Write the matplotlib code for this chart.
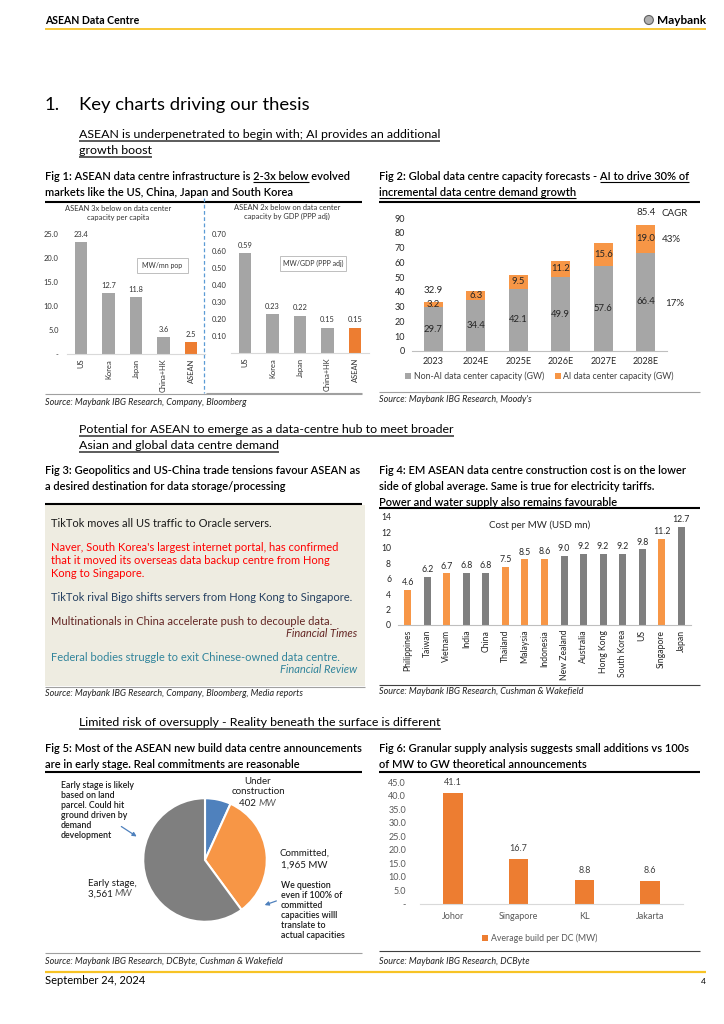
import numpy as np
import matplotlib
matplotlib.use("Agg")
import matplotlib.pyplot as plt
from matplotlib.patches import Rectangle, Circle

plt.rcParams['font.family'] = ['Lato', 'DejaVu Sans']

W, H = 724, 1024

#%% data
fig1_countries = ["US", "Korea", "Japan", "China+HK", "ASEAN"]
fig1_mw_per_pop = [23.4, 12.7, 11.8, 3.6, 2.5]
fig1_mw_per_gdp = [0.59, 0.23, 0.22, 0.15, 0.15]

fig2_years = ["2023", "2024E", "2025E", "2026E", "2027E", "2028E"]
fig2_non_ai = [29.7, 34.4, 42.1, 49.9, 57.6, 66.4]
fig2_ai = [3.2, 6.3, 9.5, 11.2, 15.6, 19.0]
fig2_cagr_ai = "43%"
fig2_cagr_non_ai = "17%"

fig4_countries = ["Philippines", "Taiwan", "Vietnam", "India", "China", "Thailand",
                  "Malaysia", "Indonesia", "New Zealand", "Australia", "Hong Kong",
                  "South Korea", "US", "Singapore", "Japan"]
fig4_cost = [4.6, 6.2, 6.7, 6.8, 6.8, 7.5, 8.5, 8.6, 9.0, 9.2, 9.2, 9.2, 9.8, 11.2, 12.7]
fig4_is_asean = [True, False, True, False, False, True, True, True,
                 False, False, False, False, False, True, False]

fig5_stages = ["Under construction", "Committed", "Early stage"]
fig5_mw = [402, 1965, 3561]

fig6_cities = ["Johor", "Singapore", "KL", "Jakarta"]
fig6_avg_build = [41.1, 16.7, 8.8, 8.6]

# colours
GREY = '#A5A5A5'
DGREY = '#7F7F7F'
ORANGE = '#ED7D31'
LORANGE = '#F79646'
BLUE = '#4F81BD'
YELLOW = '#F7C325'

#%% page canvas in pixel coords (y down)
fig = plt.figure(figsize=(W / 100, H / 100), dpi=100)
page = fig.add_axes([0, 0, 1, 1])
page.set_xlim(0, W)
page.set_ylim(H, 0)
page.axis('off')
renderer = fig.canvas.get_renderer()


def px_axes(x0, y0, x1, y1):
    ax = fig.add_axes([x0 / W, 1 - y1 / H, (x1 - x0) / W, (y1 - y0) / H])
    ax.patch.set_visible(False)
    return ax


def T(x, y, s, size=7.4, **kw):
    # y = visual middle of capitals, in page pixels
    return page.text(x, y + 0.5 * size, s, fontsize=size, va='baseline', **kw)


def measure(s, size, **kw):
    t = page.text(0, 0, s, fontsize=size, **kw)
    w = t.get_window_extent(renderer).width
    t.remove()
    return w


def underline(x, y, s, size, start=0, end=None, color='#404040', lw=1.0, **kw):
    end = len(s) if end is None else end
    bar = measure('|', size, **kw)
    x0 = x + (measure(s[:start] + '|', size, **kw) - bar if start else 0)
    x1 = x + measure(s[:end], size, **kw)
    yb = y + 0.5 * size + 0.25 * size
    page.plot([x0, x1], [yb, yb], color=color, lw=lw, solid_capstyle='butt')


def hline(y, x0, x1, color='black', lw=1.5):
    page.plot([x0, x1], [y, y], color=color, lw=lw, solid_capstyle='butt')


def clean(ax, spine='#D9D9D9'):
    for s in ['top', 'right', 'left']:
        ax.spines[s].set_visible(False)
    ax.spines['bottom'].set_color(spine)
    ax.spines['bottom'].set_linewidth(0.8)
    ax.tick_params(length=0)


#%% header / footer
T(45, 20, "ASEAN Data Centre", 7.6, weight='bold')
T(706, 20, "Maybank", 8.5, weight='bold', ha='right')
wm = measure("Maybank", 8.5, weight='bold')
page.add_patch(Circle((706 - wm - 8, 20), 4.5, facecolor='#B0B0B0', edgecolor='#606060', lw=0.8))
hline(28.5, 45, 706, color=YELLOW, lw=1.3)

hline(972, 45, 706, color=YELLOW, lw=1.6)
T(45, 980, "September 24, 2024", 8)
T(706, 981, "4", 6, ha='right')

#%% section titles
T(45, 103, "1.", 13.3)
T(79, 103, "Key charts driving our thesis", 13.3)

SUB = 8.9
s1 = "ASEAN is underpenetrated to begin with; AI provides an additional"
s2 = "growth boost"
T(79, 134, s1, SUB); underline(79, 134, s1, SUB, lw=1.2)
T(79, 150, s2, SUB); underline(79, 150, s2, SUB, lw=1.2)

s3 = "Potential for ASEAN to emerge as a data-centre hub to meet broader"
s4 = "Asian and global data centre demand"
T(79, 429, s3, SUB); underline(79, 429, s3, SUB, lw=1.2)
T(79, 445, s4, SUB); underline(79, 445, s4, SUB, lw=1.2)

s5 = "Limited risk of oversupply - Reality beneath the surface is different"
T(79, 722, s5, SUB); underline(79, 722, s5, SUB, lw=1.2)

#%% figure titles and rules
FT = 8.0
f1a = "Fig 1: ASEAN data centre infrastructure is 2-3x below evolved"
T(45, 176, f1a, FT, weight='semibold')
underline(45, 176, f1a, FT, f1a.index("2-3x"), f1a.index("2-3x") + len("2-3x below"),
          color='black', lw=0.8, weight='semibold')
T(45, 192, "markets like the US, China, Japan and South Korea", FT, weight='semibold')
hline(202, 45, 362)

f2a = "Fig 2: Global data centre capacity forecasts - AI to drive 30% of"
f2b = "incremental data centre demand growth"
T(379, 176, f2a, FT, weight='semibold')
underline(379, 176, f2a, FT, f2a.index("AI to"), color='black', lw=0.8, weight='semibold')
T(379, 192, f2b, FT, weight='semibold')
underline(379, 192, f2b, FT, color='black', lw=0.8, weight='semibold')
hline(202, 379, 700)

T(45, 470, "Fig 3: Geopolitics and US-China trade tensions favour ASEAN as", FT, weight='semibold')
T(45, 486, "a desired destination for data storage/processing", FT, weight='semibold')
hline(504, 45, 362)

T(379, 470, "Fig 4: EM ASEAN data centre construction cost is on the lower", FT, weight='semibold')
T(379, 486, "side of global average. Same is true for electricity tariffs.", FT, weight='semibold')
T(379, 502, "Power and water supply also remains favourable", FT, weight='semibold')
hline(508, 379, 700)

T(45, 748, "Fig 5: Most of the ASEAN new build data centre announcements", FT, weight='semibold')
T(45, 764, "are in early stage. Real commitments are reasonable", FT, weight='semibold')
hline(772, 45, 362)

T(379, 748, "Fig 6: Granular supply analysis suggests small additions vs 100s", FT, weight='semibold')
T(379, 764, "of MW to GW theoretical announcements", FT, weight='semibold')
hline(772, 379, 700)

# bottom rules + sources
SRC = 6.5
src_kw = dict(style='italic', color='#222222')
hline(394, 45, 362, color='#A0A0A0', lw=0.8)
T(45, 402, "Source: Maybank IBG Research, Company, Bloomberg", SRC, **src_kw)
hline(392, 379, 700, color='#A0A0A0', lw=0.8)
T(379, 399, "Source: Maybank IBG Research, Moody's", SRC, **src_kw)
T(45, 693, "Source: Maybank IBG Research, Company, Bloomberg, Media reports", SRC, **src_kw)
hline(685, 379, 700, color='#404040', lw=0.8)
T(379, 691, "Source: Maybank IBG Research, Cushman & Wakefield", SRC, **src_kw)
hline(953, 45, 362, color='#A0A0A0', lw=0.8)
T(45, 961, "Source: Maybank IBG Research, DCByte, Cushman & Wakefield", SRC, **src_kw)
hline(951, 379, 700, color='#404040', lw=0.8)
T(379, 961, "Source: Maybank IBG Research, DCByte", SRC, **src_kw)

#%% Fig 1 - two small panels
SM = 5.4
page.text(118, 213, "ASEAN 3x below on data center\ncapacity per capita", fontsize=SM,
          ha='center', va='center', color='#333333', linespacing=1.35)
page.text(287, 212, "ASEAN 2x below on data center\ncapacity by GDP (PPP adj)", fontsize=SM,
          ha='center', va='center', color='#333333', linespacing=1.35)
page.plot([204, 204], [198, 393], color='#5B9BD5', lw=0.9, ls=(0, (3, 2)))
hline(393, 206, 362, color='#A0A0A0', lw=0.8)

page.add_patch(Rectangle((137, 258), 51, 15, facecolor='white', edgecolor='#BFBFBF', lw=0.7))
page.text(162.5, 265.5, "MW/mn pop", fontsize=5, ha='center', va='center', color='#333333')
page.add_patch(Rectangle((280, 256), 66, 15, facecolor='white', edgecolor='#BFBFBF', lw=0.7))
page.text(313, 263.5, "MW/GDP (PPP adj)", fontsize=5, ha='center', va='center', color='#333333')

f1_colors = [GREY] * (len(fig1_countries) - 1) + [ORANGE]
x1 = np.arange(len(fig1_countries))

ax1 = px_axes(67, 234, 205, 354)
b = ax1.bar(x1, fig1_mw_per_pop, width=0.45, color=f1_colors)
ax1.bar_label(b, fmt='%.1f', padding=3, fontsize=SM, color='#333333')
ax1.set_ylim(0, 25)
ax1.set_xlim(-0.5, len(x1) - 0.5)
ax1.set_yticks(np.arange(0, 26, 5))
ax1.set_yticklabels(['-'] + [f'{v:.1f}' for v in np.arange(5, 26, 5)])
ax1.set_xticks(x1)
ax1.set_xticklabels(fig1_countries, rotation=90)
clean(ax1)
ax1.tick_params(axis='y', labelsize=SM, pad=6, labelcolor='#333333')
ax1.tick_params(axis='x', labelsize=SM, pad=3.5, labelcolor='#333333')

ax1b = px_axes(231, 234, 369, 353)
b = ax1b.bar(x1, fig1_mw_per_gdp, width=0.45, color=f1_colors)
ax1b.bar_label(b, fmt='%.2f', padding=3, fontsize=SM, color='#333333')
ax1b.set_ylim(0, 0.7)
ax1b.set_xlim(-0.5, len(x1) - 0.5)
ax1b.set_yticks(np.arange(0.1, 0.71, 0.1))
ax1b.set_yticklabels([f'{v:.2f}' for v in np.arange(0.1, 0.71, 0.1)])
ax1b.set_xticks(x1)
ax1b.set_xticklabels(fig1_countries, rotation=90)
clean(ax1b)
ax1b.tick_params(axis='y', labelsize=SM, pad=3, labelcolor='#333333')
ax1b.tick_params(axis='x', labelsize=SM, pad=3.5, labelcolor='#333333')

#%% Fig 2 - stacked capacity forecast
ax2 = px_axes(412, 218, 667, 351)
x2 = np.arange(len(fig2_years))
totals = np.array(fig2_non_ai) + np.array(fig2_ai)
b_non = ax2.bar(x2, fig2_non_ai, width=0.45, color='#A6A6A6', label='Non-AI data center capacity (GW)')
b_ai = ax2.bar(x2, fig2_ai, bottom=fig2_non_ai, width=0.45, color=LORANGE, label='AI data center capacity (GW)')
ax2.bar_label(b_non, fmt='%.1f', label_type='center', fontsize=6.8, color='#262626')
ax2.bar_label(b_ai, fmt='%.1f', label_type='center', fontsize=6.8, color='#262626')
for i in [0, len(x2) - 1]:
    ax2.text(x2[i], totals[i] + 8, f'{totals[i]:.1f}', ha='center', va='center', fontsize=7, color='#262626')
ax2.set_ylim(0, 90)
ax2.set_xlim(-0.5, len(x2) - 0.5)
ax2.set_yticks(np.arange(0, 91, 10))
ax2.set_xticks(x2)
ax2.set_xticklabels(fig2_years)
clean(ax2, spine='#BFBFBF')
ax2.tick_params(labelsize=6.5, labelcolor='#262626')
ax2.tick_params(axis='y', pad=5)
ax2.tick_params(axis='x', pad=4)
ax2.legend(loc='center', bbox_to_anchor=(0.5, -0.19), ncol=2, frameon=False, fontsize=6.3,
           handlelength=0.7, handleheight=0.7, handletextpad=0.3, columnspacing=1.2,
           labelcolor='#404040')
T(662, 213, "CAGR", 7, color='#262626')
T(662, 238, fig2_cagr_ai, 7, color='#262626')
T(665, 302, fig2_cagr_non_ai, 7, color='#262626')

#%% Fig 3 - news box
page.add_patch(Rectangle((45, 505), 320, 181, facecolor='#EEECE1', edgecolor='none'))
hline(686.5, 45, 365, color='#A0A0A0', lw=0.8)
BX = 8.0
news = [
    (523, "TikTok moves all US traffic to Oracle servers.", '#1A1A1A'),
    (547, "Naver, South Korea's largest internet portal, has confirmed", '#FF0000'),
    (560, "that it moved its overseas data backup centre from Hong", '#FF0000'),
    (573, "Kong to Singapore.", '#FF0000'),
    (597, "TikTok rival Bigo shifts servers from Hong Kong to Singapore.", '#243F60'),
    (621, "Multinationals in China accelerate push to decouple data.", '#632523'),
    (657, "Federal bodies struggle to exit Chinese-owned data centre.", '#31849B'),
]
for y, s, c in news:
    T(51, y, s, BX, color=c)
T(357, 633, "Financial Times", BX, style='italic', color='#632523', ha='right')
T(357, 669, "Financial Review", BX, style='italic', color='#31849B', ha='right')

#%% Fig 4 - construction cost per MW
ax4 = px_axes(398, 517, 691, 625)
x4 = np.arange(len(fig4_countries))
c4 = [LORANGE if a else DGREY for a in fig4_is_asean]
b = ax4.bar(x4, fig4_cost, width=0.36, color=c4)
ax4.bar_label(b, fmt='%.1f', padding=2, fontsize=6.3, color='#262626')
ax4.set_ylim(0, 14)
ax4.set_xlim(-0.5, len(x4) - 0.5)
ax4.set_yticks(np.arange(0, 15, 2))
ax4.set_xticks(x4)
ax4.set_xticklabels(fig4_countries, rotation=90)
clean(ax4, spine='#BFBFBF')
ax4.tick_params(labelsize=6.2, labelcolor='#262626')
ax4.tick_params(axis='y', pad=5)
ax4.tick_params(axis='x', pad=3.5)
page.text(540, 525, "Cost per MW (USD mn)", fontsize=7, ha='center', va='center', color='#262626')

#%% Fig 5 - pipeline pie
ax5 = px_axes(142, 797, 268, 923)
ax5.pie(fig5_mw, colors=[BLUE, LORANGE, DGREY], startangle=90, counterclock=False,
        wedgeprops=dict(edgecolor='white', linewidth=1.5))
ax5.set_xlim(-1.02, 1.02)
ax5.set_ylim(-1.02, 1.02)

PL = 7
T(258, 780, "Under", PL, ha='center', color='#1A1A1A')
T(258, 791, "construction", PL, ha='center', color='#1A1A1A')
n1 = f"{fig5_mw[0]:,} "
w1 = measure(n1, PL) + measure("MW", PL, style='italic')
T(258 - w1 / 2, 802, n1, PL, color='#1A1A1A')
T(258 - w1 / 2 + measure(n1 + "|", PL) - measure("|", PL), 802, "MW", PL, style='italic', color='#595959')

T(279, 852, "Committed,", PL, color='#1A1A1A')
T(281, 864, f"{fig5_mw[1]:,} MW", PL, color='#1A1A1A')

T(112, 882, "Early stage,", PL, ha='center', color='#1A1A1A')
n3 = f"{fig5_mw[2]:,} "
w3 = measure(n3, PL) + measure("MW", PL, style='italic')
T(110 - w3 / 2, 893, n3, PL, color='#1A1A1A')
T(110 - w3 / 2 + measure(n3 + "|", PL) - measure("|", PL), 893, "MW", PL, style='italic', color='#595959')

NOTE = 6.3
for i, s in enumerate(["Early stage is likely", "based on land", "parcel. Could hit",
                       "ground driven by", "demand", "development"]):
    T(61, 785 + i * 10, s, NOTE, weight='semibold', color='#1A1A1A')
for i, s in enumerate(["We question", "even if 100% of", "committed",
                       "capacities willl", "translate to", "actual capacities"]):
    T(281, 885 + i * 10, s, NOTE, weight='semibold', color='#1A1A1A')
page.annotate("", xy=(139, 838), xytext=(119, 825),
              arrowprops=dict(arrowstyle='-|>', color=BLUE, lw=0.9, mutation_scale=6))
page.annotate("", xy=(262, 906), xytext=(279, 900),
              arrowprops=dict(arrowstyle='-|>', color=BLUE, lw=0.9, mutation_scale=6))

#%% Fig 6 - average build per DC
ax6 = px_axes(420, 782, 683, 904)
x6 = np.arange(len(fig6_cities))
b = ax6.bar(x6, fig6_avg_build, width=0.3, color=ORANGE, label='Average build per DC (MW)')
ax6.bar_label(b, fmt='%.1f', padding=4, fontsize=6.5, color='#404040')
ax6.set_ylim(0, 45)
ax6.set_xlim(-0.5, len(x6) - 0.5)
ax6.set_yticks(np.arange(0, 46, 5))
ax6.set_yticklabels(['-'] + [f'{v:.1f}' for v in np.arange(5, 46, 5)])
ax6.set_xticks(x6)
ax6.set_xticklabels(fig6_cities)
clean(ax6)
ax6.tick_params(labelsize=6.5, labelcolor='#595959')
ax6.tick_params(axis='y', pad=10)
ax6.tick_params(axis='x', pad=6)
ax6.legend(loc='center', bbox_to_anchor=(0.456, -0.28), frameon=False, fontsize=6.3,
           handlelength=0.7, handleheight=0.7, handletextpad=0.3, labelcolor='#595959')

fig.savefig("out.png", dpi=100)
